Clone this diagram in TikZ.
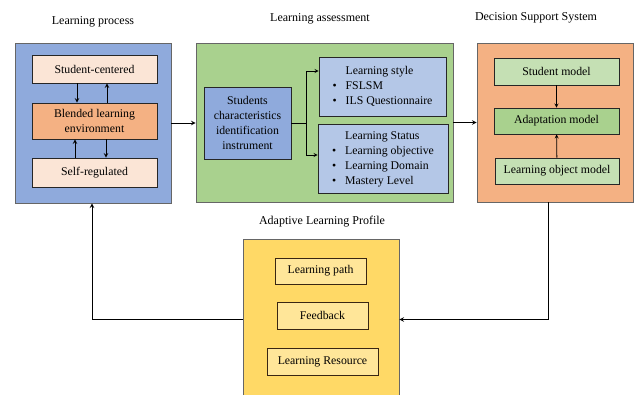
\documentclass[tikz,border=0pt]{standalone}
\usepackage{fontspec}
\setmainfont{Liberation Serif}
\usetikzlibrary{positioning}
\usetikzlibrary{arrows.meta}
\tikzset{>=stealth}
\definecolor{procblue}{HTML}{8FAADC}
\definecolor{paleorange}{HTML}{FBE5D6}
\definecolor{midorange}{HTML}{F4B183}
\definecolor{assessgreen}{HTML}{A9D18E}
\definecolor{paleblue}{HTML}{B4C7E7}
\definecolor{palegreen}{HTML}{C5E0B4}
\definecolor{profyellow}{HTML}{FFD966}
\definecolor{paleyellow}{HTML}{FFE699}
\tikzset{
	% outer panels
	panel/.style={draw=gray!80!black,line width=0.9pt,inner sep=0pt},
	% inner boxes
	item/.style={draw=black!85,line width=0.8pt,inner sep=1pt,align=center,
		font=\fontsize{11.8}{15}\selectfont},
	heading/.style={font=\fontsize{12}{14}\selectfont},
	link/.style={line width=1pt,->},
}

\begin{document}
\begin{tikzpicture}[x=1pt,y=-1pt]
	\clip (0,0) rectangle (634,394);
	\fill[white] (0,0) rectangle (634,394);
	
	\node[heading] (t1) at (93,22) {Learning process};
	\node[heading] (t2) at (320,19) {Learning assessment};
	\node[heading] (t3) at (536,18) {Decision Support System};
	\node[heading] (t4) at (322,222) {Adaptive Learning Profile};
	
	\node[panel,fill=procblue,minimum width=156,minimum height=160] (lp) at (93,123) {};
	\node[panel,fill=assessgreen,minimum width=257,minimum height=159] (la) at (324.5,122.5) {};
	\node[panel,fill=midorange,minimum width=156,minimum height=159] (dss) at (555,122.5) {};
	\node[panel,fill=profyellow,minimum width=156,minimum height=161] (alp) at (321,319.5) {};
	
	\node[item,fill=paleorange,minimum width=125,minimum height=28] (sc) at (94.5,69) {Student-centered};
	\node[item,fill=midorange,minimum width=125,minimum height=36] (ble) at (94.5,121) {Blended learning\\environment};
	\node[item,fill=paleorange,minimum width=125,minimum height=29] (sr) at (94.5,172.5) {Self-regulated};
	
	\draw[link] ([xshift=-17.5pt]sc.south) -- ([xshift=-17.5pt]sc.south |- ble.north);
	\draw[link] ([xshift=12.5pt]ble.north) -- ([xshift=12.5pt]ble.north |- sc.south);
	\draw[link] ([xshift=-19.5pt]sr.north) -- ([xshift=-19.5pt]sr.north |- ble.south);
	\draw[link] ([xshift=11.5pt]ble.south) -- ([xshift=11.5pt]ble.south |- sr.north);
	
	\node[item,fill=procblue,minimum width=87,minimum height=72] (sci) at (247.5,123) {Students\\characteristics\\identification\\instrument};
	\node[item,fill=paleblue,minimum width=127,minimum height=59] (ls) at (382.5,86.5) {%
		\begin{tabular}{@{}l@{\hspace{9pt}}l@{}}
			& Learning style\\
			\textbullet & FSLSM\\
			\textbullet & ILS Questionnaire
		\end{tabular}};
	\node[item,fill=paleblue,minimum width=130,minimum height=69] (lst) at (383,158.5) {%
		\begin{tabular}{@{}l@{\hspace{9pt}}l@{}}
			& Learning Status\\
			\textbullet & Learning objective\\
			\textbullet & Learning Domain\\
			\textbullet & Mastery Level
		\end{tabular}};
	
	\coordinate (fork) at (306,123);
	\draw[line width=0.8pt] (sci.east) -- (fork);
	\draw[line width=0.8pt,->] (fork) |- ([yshift=15.5pt]ls.west);
	\draw[line width=0.8pt,->] (fork) |- ([yshift=3.5pt]lst.west);
	
	\node[item,fill=palegreen,minimum width=125,minimum height=27] (sm) at (556.5,71.5) {Student model};
	\node[item,fill=assessgreen,minimum width=125,minimum height=26] (am) at (556.5,121) {Adaptation model};
	\node[item,fill=palegreen,minimum width=124,minimum height=26] (lom) at (557,171) {Learning object model};
	
	\draw[line width=0.8pt,->] (sm) -- (am);
	\draw[line width=0.8pt,->] (lom) -- (am);
	
	\node[item,draw=black!70!brown,fill=paleyellow,minimum width=91,minimum height=26] (lpath) at (320.5,271) {Learning path};
	\node[item,draw=black!70!brown,fill=paleyellow,minimum width=91,minimum height=27] (fb) at (322.5,315.5) {Feedback};
	\node[item,draw=black!70!brown,fill=paleyellow,minimum width=111,minimum height=27] (lr) at (322.5,361.5) {Learning Resource};
	
	\draw[link] (lp.east) -- (lp.east -| la.west);
	\draw[link] (la.east) -- (la.east -| dss.west);
	\draw[link] ([xshift=-7pt]dss.south) |- (alp.east);
	\draw[link] (alp.west) -| ([xshift=-1pt]lp.south);
	
\end{tikzpicture}
\end{document}
